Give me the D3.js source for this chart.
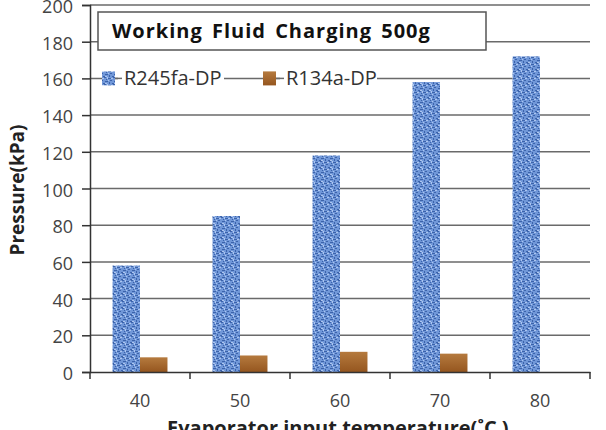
<!DOCTYPE html>
<html><head><meta charset="utf-8">
<script src="https://cdn.jsdelivr.net/npm/d3@7"></script>
<style>body{margin:0;background:#fff}svg{display:block}</style>
</head><body><div id="c"></div>
<script>
const categories = ["40","50","60","70","80"];
const seriesNames = ["R245fa-DP","R134a-DP"];
const r245fa = [58, 85, 118, 158, 172];
const r134a = [8, 9, 11, 10, 0];
const yTicks = [0,20,40,60,80,100,120,140,160,180,200];
const titleText = "Working Fluid Charging 500g";
const yLabel = "Pressure(kPa)";
const xLabel = "Evaporator input temperature(˚C )";

const W=606,H=430, m={l:90,r:16,t:5,b:58};
const FF="'Open Sans',sans-serif";
const svg=d3.select("#c").append("svg").attr("width",W).attr("height",H);
const defs=svg.append("defs");
const pat=defs.append("pattern").attr("id","blueTex").attr("patternUnits","userSpaceOnUse").attr("width",9).attr("height",7);
pat.append("rect").attr("width",9).attr("height",7).attr("fill","#7097d8");
[[0,1,3,1],[5,0,2,1],[2,3,2,1],[6,4,3,1],[1,5,1,2],[4,6,2,1],[7,2,1,1]].forEach(d=>pat.append("rect").attr("x",d[0]).attr("y",d[1]).attr("width",d[2]).attr("height",d[3]).attr("fill","#2f569f").attr("opacity",0.8));
[[3,1,2,1],[0,3,1,1],[6,6,2,1],[8,0,1,2]].forEach(d=>pat.append("rect").attr("x",d[0]).attr("y",d[1]).attr("width",d[2]).attr("height",d[3]).attr("fill","#adc6ef"));
const gb=defs.append("linearGradient").attr("id","brownG").attr("x1",0).attr("y1",0).attr("x2",0).attr("y2",1);
gb.append("stop").attr("offset","0").attr("stop-color","#b57a3e");
gb.append("stop").attr("offset","1").attr("stop-color","#95561f");

const x=d3.scaleBand().domain(categories).range([m.l,W-m.r]).paddingInner(0).paddingOuter(0);
const y=d3.scaleLinear().domain([0,200]).range([H-m.b,m.t]);
const xs=d3.scaleBand().domain(seriesNames).range([0,x.bandwidth()]).paddingInner(0).paddingOuter(0.82);

// gridlines
svg.append("g").selectAll("line").data(yTicks.filter(d=>d>0)).join("line")
 .attr("x1",m.l).attr("x2",W-m.r).attr("y1",d=>y(d)).attr("y2",d=>y(d))
 .attr("stroke","#6a6a6a").attr("stroke-width",1.5);

// bars
const data=[r245fa,r134a];
const fills=["url(#blueTex)","url(#brownG)"];
seriesNames.forEach((s,si)=>{
  svg.append("g").selectAll("rect").data(categories).join("rect")
   .attr("x",c=>x(c)+xs(s)).attr("width",xs.bandwidth())
   .attr("y",(c,i)=>y(data[si][i])).attr("height",(c,i)=>y(0)-y(data[si][i]))
   .attr("fill",fills[si]);
});

// axes
const ya=svg.append("g").attr("transform",`translate(${m.l},0)`)
 .call(d3.axisLeft(y).tickValues(yTicks).tickSize(8).tickPadding(9));
ya.select(".domain").attr("stroke","#333").attr("stroke-width",1.5);
ya.selectAll(".tick line").attr("stroke","#333").attr("stroke-width",1.5);
ya.selectAll("text").attr("font-family",FF).attr("font-size",18).attr("fill","#444").attr("dy","0.42em");
const xa=svg.append("g").attr("transform",`translate(0,${y(0)})`)
 .call(d3.axisBottom(x).tickSize(0).tickPadding(22));
xa.select(".domain").attr("stroke","#333").attr("stroke-width",1.5);
xa.selectAll("text").attr("font-family",FF).attr("font-size",18).attr("fill","#444");
// x ticks at band boundaries
svg.append("g").selectAll("line").data(categories.concat(["end"])).join("line")
 .attr("x1",(c,i)=>m.l+i*x.step()).attr("x2",(c,i)=>m.l+i*x.step())
 .attr("y1",y(0)).attr("y2",y(0)+7).attr("stroke","#333").attr("stroke-width",1.5);

// title box
const tg=svg.append("g");
tg.append("rect").attr("x",98).attr("y",12).attr("width",388).attr("height",38).attr("fill","#fff").attr("stroke","#555").attr("stroke-width",1.5);
tg.append("text").attr("x",112).attr("y",38).attr("font-family",FF).attr("font-weight","bold").attr("font-size",20)
 .attr("letter-spacing",1).attr("word-spacing",3).attr("fill","#111").text(titleText);

// legend
const ly=y(160);
const lg=svg.append("g");
const leg=[{x:102,tx:124,w:106,fill:"url(#blueTex)"},{x:263,tx:286,w:97,fill:"url(#brownG)"}];
leg.forEach((l,i)=>{
  lg.append("rect").attr("x",l.tx-6).attr("y",ly-12).attr("width",l.w).attr("height",24).attr("fill","#fff");
  lg.append("rect").attr("x",l.x).attr("y",ly-7).attr("width",13).attr("height",14).attr("fill",l.fill);
  lg.append("line").attr("x1",l.x+13).attr("x2",l.tx-2).attr("y1",ly).attr("y2",ly).attr("stroke","#6a6a6a").attr("stroke-width",1.5);
  lg.append("text").attr("x",l.tx).attr("y",ly+7).attr("font-family",FF).attr("font-size",20).attr("fill","#333").text(seriesNames[i]);
});

// axis labels
svg.append("text").attr("transform",`translate(24,${190}) rotate(-90)`).attr("text-anchor","middle")
 .attr("font-family",FF).attr("font-weight","bold").attr("font-size",19).attr("fill","#222").text(yLabel);
svg.append("text").attr("x",167).attr("y",435)
 .attr("font-family",FF).attr("font-weight","bold").attr("font-size",20).attr("fill","#222").text(xLabel);
</script></body></html>
